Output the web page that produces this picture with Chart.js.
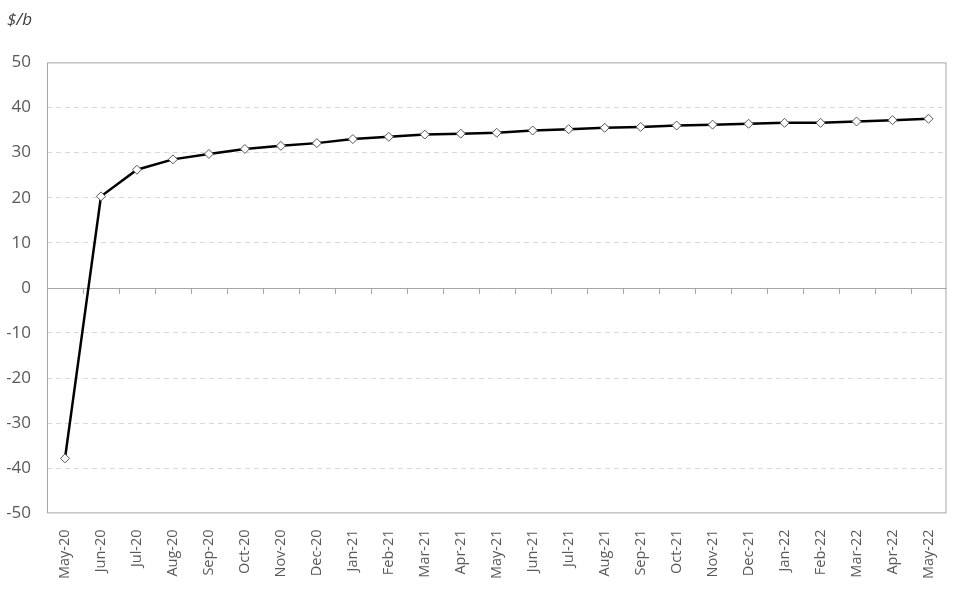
<!DOCTYPE html>
<html lang="en">
<head>
    <meta charset="UTF-8">
    <title>$/b</title>
    <script src="https://cdn.jsdelivr.net/npm/chart.js"></script>
    <style>
        html, body { margin: 0; padding: 0; background: #fff; }
        canvas { display: block; }
    </style>
</head>
<body>
    <canvas id="chart" width="954" height="600"></canvas>

    <script>
        // month labels
        const months = ["May-20", "Jun-20", "Jul-20", "Aug-20", "Sep-20", "Oct-20", "Nov-20", "Dec-20",
            "Jan-21", "Feb-21", "Mar-21", "Apr-21", "May-21", "Jun-21", "Jul-21", "Aug-21",
            "Sep-21", "Oct-21", "Nov-21", "Dec-21", "Jan-22", "Feb-22", "Mar-22", "Apr-22", "May-22"];
        // price, $/b
        const prices = [-37.8, 20.3, 26.2, 28.5, 29.7, 30.8, 31.5, 32.1,
            33.0, 33.5, 34.0, 34.2, 34.4, 34.9, 35.2, 35.5,
            35.7, 36.0, 36.2, 36.4, 36.6, 36.6, 36.9, 37.2, 37.5];
        const yMin = -50, yMax = 50, yStep = 10;

        const fontFamily = "'Open Sans', 'Noto Sans', sans-serif";

        // frame around the plot + solid zero line with tick marks between categories
        const framePlugin = {
            id: "frame",
            beforeDatasetsDraw(chart) {
                const { ctx, chartArea: a, scales } = chart;
                const y0 = Math.round(scales.y.getPixelForValue(0));
                ctx.save();
                ctx.strokeStyle = "#a6a6a6";
                ctx.lineWidth = 1;
                ctx.strokeRect(a.left + 0.5, a.top + 0.5, a.right - a.left - 1, a.bottom - a.top - 1);
                ctx.beginPath();
                ctx.moveTo(a.left, y0 + 0.5);
                ctx.lineTo(a.right, y0 + 0.5);
                const x = scales.x;
                for (let i = 1; i < months.length; i++) {
                    const px = Math.round((x.getPixelForValue(i - 1) + x.getPixelForValue(i)) / 2) + 0.5;
                    ctx.moveTo(px, y0);
                    ctx.lineTo(px, y0 + 6);
                }
                ctx.stroke();
                ctx.restore();
            }
        };

        new Chart(document.getElementById("chart"), {
            type: "line",
            data: {
                labels: months,
                datasets: [{
                    data: prices,
                    borderColor: "#000",
                    borderWidth: 2.5,
                    pointStyle: "rectRot",
                    pointRadius: 4.5,
                    pointBackgroundColor: "#fff",
                    pointBorderColor: "#555",
                    pointBorderWidth: 1,
                    tension: 0
                }]
            },
            options: {
                responsive: false,
                animation: false,
                layout: { padding: { left: 7, right: 4, top: 10, bottom: 13 } },
                plugins: {
                    legend: { display: false },
                    tooltip: { enabled: false },
                    title: {
                        display: true,
                        text: "$/b",
                        align: "start",
                        color: "#404040",
                        font: { family: fontFamily, size: 17, style: "italic", weight: "normal" },
                        padding: { top: 0, bottom: 32 }
                    }
                },
                scales: {
                    x: {
                        offset: true,
                        grid: { display: false },
                        border: { display: false },
                        ticks: {
                            autoSkip: false,
                            maxRotation: 90,
                            minRotation: 90,
                            padding: 8,
                            color: "#595959",
                            font: { family: fontFamily, size: 14.5 }
                        }
                    },
                    y: {
                        min: yMin,
                        max: yMax,
                        afterFit: (s) => { s.width = 40; },
                        ticks: {
                            stepSize: yStep,
                            padding: 16,
                            color: "#595959",
                            font: { family: fontFamily, size: 17 }
                        },
                        grid: {
                            drawTicks: false,
                            color: (c) => c.index === 0 || c.index === 5 || c.index === 10 ? "rgba(0,0,0,0)" : "#d9d9d9"
                        },
                        border: { display: false, dash: [5, 4] }
                    }
                }
            },
            plugins: [framePlugin]
        });
    </script>
</body>
</html>
